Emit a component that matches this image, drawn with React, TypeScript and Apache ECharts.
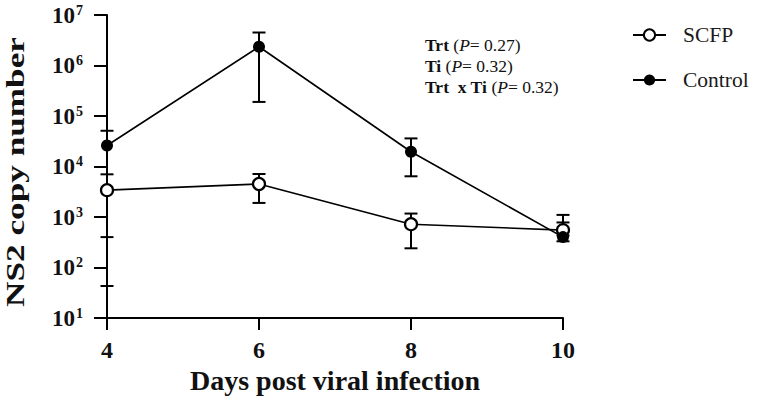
import React, { useEffect, useRef } from "react";
import * as echarts from "echarts";

const days = [4, 6, 8, 10];
const scfpMean = [3400, 4500, 720, 550];
const scfpHigh = [7000, 7100, 1170, 1100];
const scfpLow = [43, 1900, 240, 430];
const controlMean = [26000, 2350000, 19600, 400];
const controlHigh = [51000, 4500000, 36000, 780];
const controlLow = [400, 190000, 6400, 330];
const statLines = [
  { term: "Trt", p: "0.27" },
  { term: "Ti", p: "0.32" },
  { term: "Trt  x Ti", p: "0.32" },
];
const yTitle = "NS2 copy number";
const xTitle = "Days post viral infection";

const FONT = "Liberation Serif";

function measure(text: string, font: string): number {
  const c = document.createElement("canvas").getContext("2d");
  if (!c) return text.length * 12;
  c.font = font;
  return c.measureText(text).width;
}

export default function App() {
  const ref = useRef<HTMLDivElement>(null);
  useEffect(() => {
    if (!ref.current) return;
    const chart = echarts.init(ref.current, undefined, { renderer: "svg" });
    const errRender = (params: any, api: any) => {
      const x = api.value(0);
      const lo = api.value(1);
      const hi = api.value(2);
      const pHi = api.coord([x, hi]);
      const pLo = api.coord([x, lo]);
      const w = 6.5;
      const st = { stroke: "#000", lineWidth: 2 };
      return {
        type: "group",
        children: [
          { type: "line", shape: { x1: pHi[0], y1: pHi[1], x2: pLo[0], y2: pLo[1] }, style: st },
          { type: "line", shape: { x1: pHi[0] - w, y1: pHi[1], x2: pHi[0] + w, y2: pHi[1] }, style: st },
          { type: "line", shape: { x1: pLo[0] - w, y1: pLo[1], x2: pLo[0] + w, y2: pLo[1] }, style: st },
        ],
      };
    };
    const yTitleSize = 26;
    const yTitleW = measure(yTitle, "bold " + yTitleSize + "px " + FONT);
    const yScale = 270 / (yTitleW || 200);
    const option: any = {
      animation: false,
      backgroundColor: "#fff",
      textStyle: { fontFamily: FONT },
      grid: { left: 107, right: 197, top: 15, bottom: 84 },
      legend: {
        data: ["SCFP", "Control"],
        orient: "vertical",
        left: 627,
        top: 18,
        itemWidth: 33,
        itemHeight: 14,
        itemGap: 21,
        textStyle: { fontFamily: FONT, fontWeight: "normal", fontSize: 21.5, color: "#1a1a1a", lineHeight: 24, padding: [0, 0, 0, 12] },
      },
      xAxis: {
        type: "value",
        min: 4,
        max: 10,
        interval: 2,
        splitLine: { show: false },
        axisLine: { lineStyle: { color: "#000", width: 2 } },
        axisTick: { show: true, length: 12, lineStyle: { color: "#000", width: 2 } },
        axisLabel: { fontFamily: FONT, fontSize: 24, fontWeight: "bold", color: "#111", margin: 20 },
        name: xTitle,
        nameLocation: "middle",
        nameGap: 48,
        nameTextStyle: { fontFamily: FONT, fontSize: 28, fontWeight: "bold", color: "#111" },
      },
      yAxis: {
        type: "log",
        logBase: 10,
        min: 10,
        max: 10000000,
        splitLine: { show: false },
        axisLine: { show: true, lineStyle: { color: "#000", width: 2 } },
        axisTick: { show: true, length: 13, lineStyle: { color: "#000", width: 2 } },
        axisLabel: {
          margin: 24,
          formatter: (v: number) => {
            const e = Math.round(Math.log10(v));
            return "{b|10}{s|" + e + "}";
          },
          rich: {
            b: { fontFamily: FONT, fontSize: 23, fontWeight: "bold", color: "#111" },
            s: { fontFamily: FONT, fontSize: 14, fontWeight: "bold", color: "#111", verticalAlign: "bottom", padding: [0, 0, 10, 1] },
          },
        },
      },
      graphic: [
        {
          type: "text",
          x: 15,
          y: 172,
          rotation: Math.PI / 2,
          scaleX: yScale,
          style: {
            text: yTitle,
            fontFamily: FONT,
            fontSize: yTitleSize,
            fontWeight: "bold",
            fill: "#111",
            align: "center",
            verticalAlign: "middle",
          },
        },
        {
          type: "text",
          left: 425,
          top: 34,
          style: {
            text: statLines
              .map((l) => "{b|" + l.term + "}{n| (}{i|P}{n|= " + l.p + ")}")
              .join("\n"),
            fontFamily: FONT,
            fontSize: 17.5,
            lineHeight: 21,
            fill: "#111",
            rich: {
              b: { fontFamily: FONT, fontSize: 17.5, fontWeight: "bold", fill: "#111", lineHeight: 21 },
              n: { fontFamily: FONT, fontWeight: 400, fontSize: 17.5, fill: "#111", lineHeight: 21 },
              i: { fontFamily: FONT, fontWeight: 400, fontSize: 17.5, fontStyle: "italic", fill: "#111", lineHeight: 21 },
            },
          },
        },
      ],
      series: [
        {
          type: "custom",
          name: "scfpErr",
          renderItem: errRender,
          data: days.map((d, i) => [d, scfpLow[i], scfpHigh[i]]),
          encode: { x: 0, y: [1, 2] },
          z: 1,
          silent: true,
        },
        {
          type: "custom",
          name: "controlErr",
          renderItem: errRender,
          data: days.map((d, i) => [d, controlLow[i], controlHigh[i]]),
          encode: { x: 0, y: [1, 2] },
          z: 1,
          silent: true,
        },
        {
          type: "line",
          name: "SCFP",
          data: days.map((d, i) => [d, scfpMean[i]]),
          symbol: "circle",
          symbolSize: 12,
          lineStyle: { color: "#000", width: 1.6 },
          itemStyle: { color: "#fff", borderColor: "#000", borderWidth: 2.2 },
          z: 3,
        },
        {
          type: "line",
          name: "Control",
          data: days.map((d, i) => [d, controlMean[i]]),
          symbol: "circle",
          symbolSize: 12,
          lineStyle: { color: "#000", width: 1.6 },
          itemStyle: { color: "#000", borderColor: "#000", borderWidth: 0 },
          z: 4,
        },
      ],
    };
    chart.setOption(option);
    return () => chart.dispose();
  }, []);
  return (
    <div
      ref={ref}
      style={{ position: "fixed", left: 0, top: 0, width: 760, height: 402, background: "#fff" }}
    />
  );
}
